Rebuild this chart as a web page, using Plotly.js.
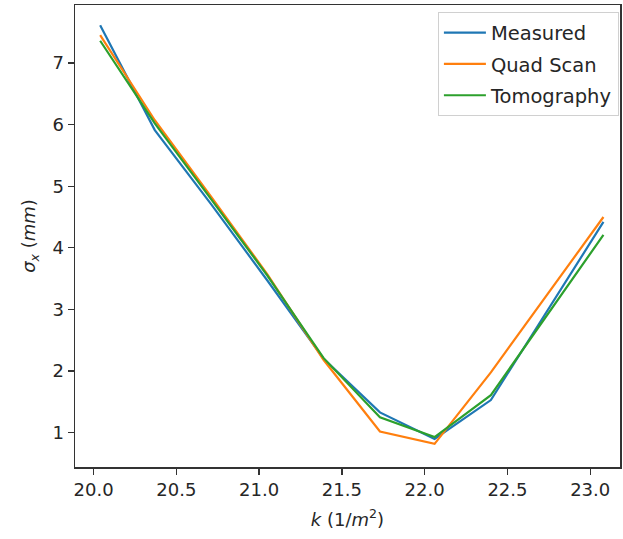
<!DOCTYPE html>
<html>
<head>
<meta charset="utf-8">
<script src="https://cdn.plot.ly/plotly-3.0.1.min.js"></script>
<style>
  html, body { margin: 0; padding: 0; background: #fff; }
  #chart { width: 623px; height: 539px; }
</style>
</head>
<body>
<div id="chart"></div>
<script>
// Quadrupole strength k (1/m^2) for each scan step
const k = [20.04, 20.37, 20.71, 21.05, 21.39, 21.73, 22.06, 22.40, 23.08];

// Horizontal beam size sigma_x (mm)
const measured   = [7.61, 5.91, 4.71, 3.47, 2.20, 1.33, 0.90, 1.53, 4.42];
const quadScan   = [7.45, 6.07, 4.83, 3.57, 2.18, 1.02, 0.82, 1.98, 4.50];
const tomography = [7.36, 6.02, 4.79, 3.55, 2.21, 1.25, 0.93, 1.61, 4.21];

const seriesNames  = ['Measured', 'Quad Scan', 'Tomography'];
const seriesValues = [measured, quadScan, tomography];
const seriesColors = ['#1f77b4', '#ff7f0e', '#2ca02c'];

const traces = seriesValues.map((vals, i) => ({
  x: k,
  y: vals,
  type: 'scatter',
  mode: 'lines',
  name: seriesNames[i],
  legendgroup: 'g' + i,
  line: { color: seriesColors[i], width: 2.2 }
}));

const fontFamily = 'DejaVu Sans, sans-serif';
const textColor = '#262626';
const axisCommon = {
  showline: true,
  mirror: true,
  linecolor: '#333',
  linewidth: 1.5,
  showgrid: false,
  zeroline: false,
  ticks: 'outside',
  ticklen: 6,
  tickwidth: 1.3,
  tickcolor: '#333',
  tickfont: { family: fontFamily, size: 18, color: textColor }
};

const layout = {
  width: 623,
  height: 539,
  margin: { l: 75.4, r: 3, t: 5, b: 72 },
  paper_bgcolor: '#fff',
  plot_bgcolor: '#fff',
  font: { family: fontFamily, size: 18, color: textColor },
  showlegend: true,
  legend: {
    x: 0.998, y: 0.984,
    xanchor: 'right', yanchor: 'top',
    bgcolor: 'rgba(255,255,255,0.8)',
    bordercolor: '#d0d0d0',
    borderwidth: 1,
    itemwidth: 42,
    tracegroupgap: 3,
    font: { family: fontFamily, size: 19.5, color: textColor }
  },
  xaxis: Object.assign({}, axisCommon, {
    range: [19.888, 23.18],
    tickvals: [20.0, 20.5, 21.0, 21.5, 22.0, 22.5, 23.0],
    ticktext: ['20.0', '20.5', '21.0', '21.5', '22.0', '22.5', '23.0'],
    title: { text: '<i>k</i> (1/<i>m</i><sup>2</sup>)', standoff: 14,
             font: { family: fontFamily, size: 18, color: textColor } }
  }),
  yaxis: Object.assign({}, axisCommon, {
    range: [0.444, 7.94],
    tickvals: [1, 2, 3, 4, 5, 6, 7],
    title: { text: '<i>σ</i><sub><i>x</i></sub> (<i>mm</i>)', standoff: 12,
             font: { family: fontFamily, size: 18, color: textColor } }
  })
};

Plotly.newPlot('chart', traces, layout, { displayModeBar: false, staticPlot: true });
</script>
</body>
</html>
